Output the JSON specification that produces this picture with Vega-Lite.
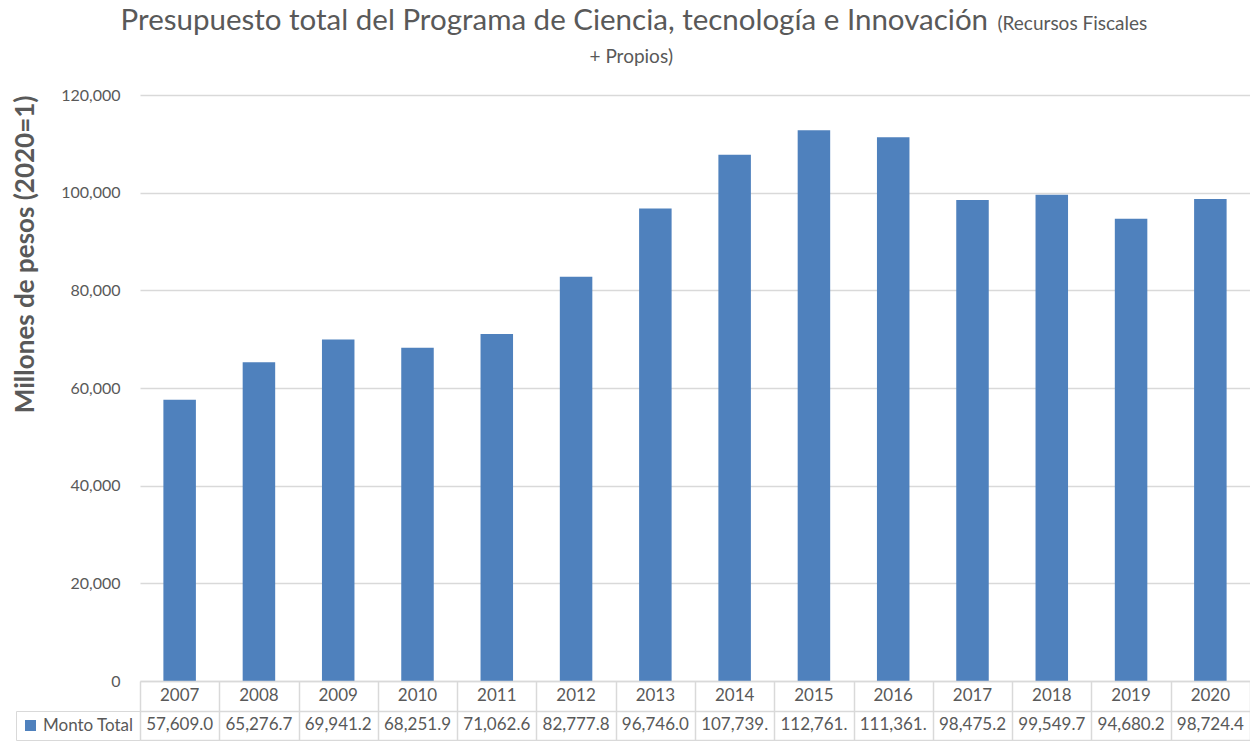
{
  "$schema": "https://vega.github.io/schema/vega-lite/v6.json",
  "padding": {"left": 12, "top": 5, "right": 0, "bottom": 0},
  "bounds": "flush",
  "spacing": 0,
  "title": {
    "text": "Presupuesto total del Programa de Ciencia, tecnología e Innovación\u2800\u2800\u2800\u2800\u2800\u2800\u2800",
    "subtitle": ["\u2800\u2800\u2800\u2800\u2800\u2800\u2800\u2800\u2800\u2800\u2800\u2800\u2800\u2800\u2800\u2800\u2800\u2800\u2800\u2800\u2800\u2800\u2800\u2800\u2800\u2800\u2800\u2800\u2800\u2800\u2800\u2800\u2800\u2800\u2800\u2800\u2800\u2800\u2800\u2800\u2800\u2800\u2800\u2800\u2800\u2800\u2800\u2800\u2800\u2800\u2800\u2800\u2800\u2800\u2800\u2800\u2800\u2800\u2800\u2800\u2800\u2800\u2800(Recursos Fiscales", "+ Propios)"],
    "anchor": "middle",
    "frame": "bounds",
    "font": "Lato",
    "fontSize": 29.5,
    "fontWeight": "normal",
    "color": "#595959",
    "subtitleFont": "Lato",
    "subtitleFontSize": 19,
    "subtitleColor": "#595959",
    "subtitlePadding": -21.2,
    "subtitleLineHeight": 33,
    "offset": 19
  },
  "data": {
    "values": [
      {"anio": "2007", "monto": 57609.0},
      {"anio": "2008", "monto": 65276.7},
      {"anio": "2009", "monto": 69941.2},
      {"anio": "2010", "monto": 68251.9},
      {"anio": "2011", "monto": 71062.6},
      {"anio": "2012", "monto": 82777.8},
      {"anio": "2013", "monto": 96746.0},
      {"anio": "2014", "monto": 107739.3},
      {"anio": "2015", "monto": 112761.4},
      {"anio": "2016", "monto": 111361.6},
      {"anio": "2017", "monto": 98475.2},
      {"anio": "2018", "monto": 99549.7},
      {"anio": "2019", "monto": 94680.2},
      {"anio": "2020", "monto": 98724.4}
    ]
  },
  "vconcat": [
    {
      "width": 1110,
      "height": 586,
      "mark": {"type": "bar"},
      "encoding": {
        "x": {"field": "anio", "type": "nominal", "axis": null, "scale": {"paddingInner": 0.59, "paddingOuter": 0.295}},
        "y": {
          "field": "monto",
          "type": "quantitative",
          "scale": {"domain": [0, 120000]},
          "axis": {
            "values": [0, 20000, 40000, 60000, 80000, 100000, 120000],
            "format": ",d",
            "title": "Millones de pesos (2020=1)",
            "titleAnchor": "end",
            "titleFontSize": 26,
            "titleFontWeight": "bold",
            "titleColor": "#595959",
            "labelFontSize": 16,
            "labelColor": "#595959",
            "labelPadding": 20,
            "titlePadding": 22,
            "domain": false,
            "ticks": false,
            "grid": true
          }
        },
        "color": {
          "datum": "Monto Total",
          "type": "nominal",
          "scale": {"range": ["#4F81BD"]},
          "legend": {
            "orient": "none",
            "legendX": -124,
            "legendY": 616,
            "title": null,
            "symbolType": "square",
            "symbolSize": 121,
            "symbolStrokeWidth": 0,
            "labelFontSize": 17,
            "labelColor": "#595959",
            "labelFont": "Lato",
            "strokeColor": "#D9D9D9",
            "padding": 6,
            "labelOffset": 4
          }
        }
      }
    },
    {
      "width": 1110,
      "height": 59,
      "encoding": {
        "x": {
          "field": "anio",
          "type": "nominal",
          "scale": {"type": "band", "paddingInner": 0, "paddingOuter": 0},
          "axis": {"grid": true, "tickBand": "extent", "labels": false, "ticks": false, "domain": false, "title": null}
        }
      },
      "layer": [
        {
          "mark": {"type": "text", "font": "Lato", "fontSize": 17, "color": "#595959"},
          "encoding": {
            "y": {
              "datum": "Año",
              "type": "nominal",
              "scale": {"type": "band", "domain": ["Año", "Monto Total"], "paddingInner": 0, "paddingOuter": 0},
              "axis": {"grid": true, "tickBand": "extent", "labels": false, "ticks": false, "domain": false, "title": null}
            },
            "text": {"field": "anio", "type": "nominal"}
          }
        },
        {
          "mark": {"type": "text", "font": "Lato", "fontSize": 17, "color": "#595959", "limit": 70, "ellipsis": "\u200b"},
          "encoding": {
            "y": {"datum": "Monto Total", "type": "nominal"},
            "text": {"field": "monto", "type": "quantitative", "format": ",.1f"}
          }
        }
      ]
    }
  ],
  "resolve": {
    "scale": {"x": "independent", "color": "independent"},
    "legend": {"color": "independent"}
  },
  "config": {
    "view": {"stroke": null},
    "font": "Lato",
    "axis": {"gridColor": "#D9D9D9", "gridWidth": 1.5, "labelFont": "Lato", "titleFont": "Lato"}
  }
}
